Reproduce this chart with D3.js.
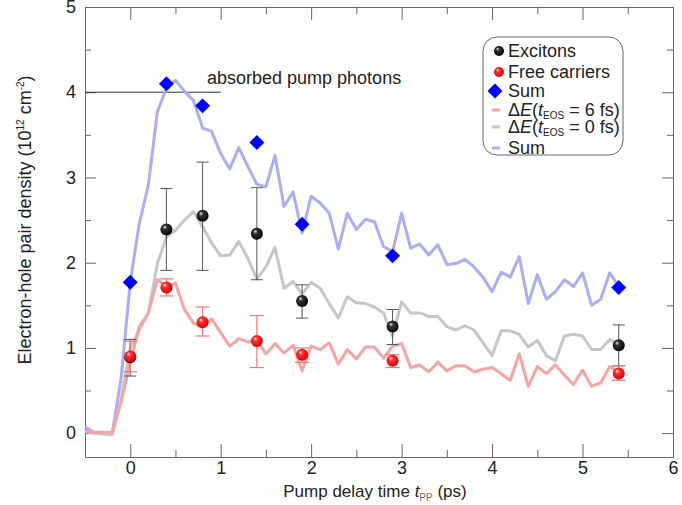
<!DOCTYPE html>
<html>
<head>
  <meta charset="utf-8">
  <style>
    body { margin: 0; background: #fff; }
    svg { font-family: "Liberation Sans", Arial, sans-serif; }
    .axis path, .axis line { stroke: #666; }
    .axis text { font-size: 18px; fill: #222; }
  </style>
</head>
<body>
  <svg width="682" height="505"></svg>

  <script src="https://cdnjs.cloudflare.com/ajax/libs/d3/7.8.5/d3.min.js"></script>
  <script>
    // time grid of the simulated curves (ps)
    const simTime = [-0.5, -0.4, -0.3, -0.2, -0.1, 0.0, 0.1, 0.2, 0.3, 0.4,
      0.5, 0.6, 0.7, 0.8, 0.9, 1.0, 1.1, 1.2, 1.3, 1.4,
      1.5, 1.6, 1.7, 1.8, 1.9, 2.0, 2.1, 2.2, 2.3, 2.4,
      2.5, 2.6, 2.7, 2.8, 2.9, 3.0, 3.1, 3.2, 3.3, 3.4,
      3.5, 3.6, 3.7, 3.8, 3.9, 4.0, 4.1, 4.2, 4.3, 4.4,
      4.5, 4.6, 4.7, 4.8, 4.9, 5.0, 5.1, 5.2, 5.3, 5.4];

    // ΔE(tEOS = 6 fs)  (free carriers)
    const curve6fs = [0.02, 0.01, 0.01, 0.01, 0.37, 0.82, 1.25, 1.41, 1.80, 1.72,
      1.76, 1.45, 1.29, 1.24, 1.34, 1.18, 1.02, 1.11, 1.07, 1.09,
      0.93, 1.05, 0.94, 1.03, 0.73, 1.02, 0.98, 1.06, 0.81, 0.98,
      0.87, 1.01, 1.01, 0.88, 1.02, 1.05, 0.77, 0.80, 0.72, 0.83,
      0.73, 0.79, 0.79, 0.72, 0.75, 0.77, 0.70, 0.62, 0.93, 0.55,
      0.78, 0.70, 0.80, 0.68, 0.57, 0.74, 0.55, 0.59, 0.78, 0.72];

    // ΔE(tEOS = 0 fs)  (excitons)
    const curve0fs = [0.02, 0.00, -0.01, -0.02, 0.40, 1.00, 1.21, 1.41, 1.99, 2.30,
      2.38, 2.50, 2.60, 2.42, 2.23, 2.08, 2.09, 2.25, 2.05, 1.81,
      1.95, 2.18, 1.70, 1.78, 1.63, 1.77, 1.70, 1.52, 1.35, 1.60,
      1.53, 1.52, 1.48, 1.41, 1.14, 1.54, 1.41, 1.41, 1.37, 1.37,
      1.25, 1.21, 1.26, 1.21, 1.06, 0.91, 1.20, 1.20, 1.16, 1.01,
      1.09, 0.91, 0.85, 1.14, 1.16, 1.14, 0.98, 0.98, 1.10, 1.04];

    // Sum of the two curves
    const curveSum = [0.07, 0.01, 0.00, -0.01, 0.65, 1.77, 2.46, 2.91, 3.77, 4.05,
      4.14, 4.01, 3.90, 3.58, 3.54, 3.28, 3.10, 3.35, 3.13, 2.92,
      2.89, 3.26, 2.66, 2.83, 2.35, 2.78, 2.70, 2.58, 2.16, 2.58,
      2.39, 2.51, 2.48, 2.19, 2.13, 2.58, 2.17, 2.22, 2.09, 2.21,
      1.98, 1.99, 2.04, 1.95, 1.83, 1.66, 1.89, 1.83, 2.07, 1.52,
      1.86, 1.57, 1.66, 1.80, 1.72, 1.88, 1.50, 1.57, 1.88, 1.72];

    // measured points
    const measTime = [0, 0.4, 0.8, 1.4, 1.9, 2.9, 5.4];
    const excitons = [0.89, 2.39, 2.55, 2.34, 1.55, 1.25, 1.03];
    const excitonsLow = [0.67, 1.91, 1.91, 1.80, 1.35, 1.04, 0.79];
    const excitonsHigh = [1.10, 2.87, 3.18, 2.88, 1.74, 1.45, 1.27];
    const carriers = [0.90, 1.71, 1.30, 1.08, 0.92, 0.85, 0.70];
    const carriersLow = [0.72, 1.61, 1.14, 0.77, 0.83, 0.77, 0.62];
    const carriersHigh = [1.08, 1.81, 1.48, 1.38, 1.00, 0.92, 0.79];
    const sumPoints = [1.77, 4.10, 3.84, 3.41, 2.45, 2.08, 1.71];

    const absorbed = 4;
    const absorbedRange = [-0.5, 1.0];

    const xTicks = [0, 1, 2, 3, 4, 5, 6];
    const xMinor = [-0.5, 0.5, 1.5, 2.5, 3.5, 4.5, 5.5];
    const yTicks = [0, 1, 2, 3, 4, 5];
    const yMinor = [0.5, 1.5, 2.5, 3.5, 4.5];

    const colRed = "#f5a3a3", colGray = "#c6c6c6", colBlue = "#acacf6";

    const svg = d3.select("svg");
    const mLeft = 85, mRight = 673, mTop = 7, mBottom = 457;

    const x = d3.scaleLinear().domain([-0.5, 6]).range([mLeft, mRight]);
    const y = d3.scaleLinear().domain([-0.28, 5]).range([mBottom, mTop]);

    // gradients for the spheres
    const defs = svg.append("defs");
    function sphere(id, c0, c1, c2) {
      const g = defs.append("radialGradient").attr("id", id)
        .attr("cx", "45%").attr("cy", "45%").attr("r", "60%")
        .attr("fx", "35%").attr("fy", "28%");
      g.append("stop").attr("offset", "0%").attr("stop-color", c0);
      g.append("stop").attr("offset", "30%").attr("stop-color", c1);
      g.append("stop").attr("offset", "100%").attr("stop-color", c2);
    }
    sphere("gBlack", "#e8e8e8", "#333", "#000");
    sphere("gRed", "#fff0f0", "#ff3030", "#d00000");

    // axes (ticks inward on all four sides)
    function axisGroup(axis, tx, ty) {
      return svg.append("g").attr("class", "axis")
        .attr("transform", `translate(${tx},${ty})`).call(axis);
    }
    axisGroup(d3.axisBottom(x).tickValues(xTicks).tickSize(-13).tickSizeOuter(0).tickPadding(4).tickFormat(d3.format("d")), 0, mBottom);
    axisGroup(d3.axisBottom(x).tickValues(xMinor).tickSize(-7).tickSizeOuter(0).tickFormat(""), 0, mBottom);
    axisGroup(d3.axisTop(x).tickValues(xTicks).tickSize(-13).tickSizeOuter(0).tickFormat(""), 0, mTop);
    axisGroup(d3.axisTop(x).tickValues(xMinor).tickSize(-7).tickSizeOuter(0).tickFormat(""), 0, mTop);
    axisGroup(d3.axisLeft(y).tickValues(yTicks).tickSize(-11).tickSizeOuter(0).tickPadding(9).tickFormat(d3.format("d")), mLeft, 0);
    axisGroup(d3.axisLeft(y).tickValues(yMinor).tickSize(-6).tickSizeOuter(0).tickFormat(""), mLeft, 0);
    axisGroup(d3.axisRight(y).tickValues(yTicks).tickSize(-11).tickSizeOuter(0).tickFormat(""), mRight, 0);
    axisGroup(d3.axisRight(y).tickValues(yMinor).tickSize(-6).tickSizeOuter(0).tickFormat(""), mRight, 0);
    svg.selectAll(".axis .domain").attr("stroke", "#666");

    // absorbed pump photons
    svg.append("line")
      .attr("x1", x(absorbedRange[0])).attr("x2", x(absorbedRange[1]))
      .attr("y1", y(absorbed)).attr("y2", y(absorbed))
      .attr("stroke", "#333").attr("stroke-width", 1);
    svg.append("text").attr("x", 207).attr("y", 84)
      .attr("font-size", 18).attr("fill", "#222").text("absorbed pump photons");

    // simulated curves
    const line = d3.line().x((d, i) => x(simTime[i])).y(d => y(d));
    [[curveSum, colBlue], [curve0fs, colGray], [curve6fs, colRed]].forEach(([arr, c]) => {
      svg.append("path").datum(arr).attr("d", line)
        .attr("fill", "none").attr("stroke", c).attr("stroke-width", 3)
        .attr("stroke-linejoin", "round");
    });

    // error bars
    function errorBars(low, high, col, cap, w) {
      const g = svg.append("g").attr("stroke", col).attr("stroke-width", w);
      measTime.forEach((t, i) => {
        g.append("line").attr("x1", x(t)).attr("x2", x(t)).attr("y1", y(low[i])).attr("y2", y(high[i]));
        g.append("line").attr("x1", x(t) - cap).attr("x2", x(t) + cap).attr("y1", y(low[i])).attr("y2", y(low[i]));
        g.append("line").attr("x1", x(t) - cap).attr("x2", x(t) + cap).attr("y1", y(high[i])).attr("y2", y(high[i]));
      });
    }
    errorBars(excitonsLow, excitonsHigh, "#555", 6, 1);
    errorBars(carriersLow, carriersHigh, "#f07878", 7, 1.2);

    // sum diamonds
    const diamond = d3.symbol().type(d3.symbolSquare).size(112);
    svg.selectAll(".sum").data(sumPoints).join("path")
      .attr("class", "sum").attr("d", diamond).attr("fill", "#0000ff")
      .attr("transform", (d, i) => `translate(${x(measTime[i])},${y(d)}) rotate(45)`);

    // spheres
    svg.selectAll(".exc").data(excitons).join("circle")
      .attr("class", "exc").attr("cx", (d, i) => x(measTime[i])).attr("cy", d => y(d))
      .attr("r", 6).attr("fill", "url(#gBlack)");
    svg.selectAll(".car").data(carriers).join("circle")
      .attr("class", "car").attr("cx", (d, i) => x(measTime[i])).attr("cy", d => y(d))
      .attr("r", 6).attr("fill", "url(#gRed)");

    // axis titles
    const xt = svg.append("text").attr("x", 375).attr("y", 497)
      .attr("text-anchor", "middle").attr("font-size", 17).attr("fill", "#222");
    xt.append("tspan").text("Pump delay time ");
    xt.append("tspan").attr("font-style", "italic").text("t");
    xt.append("tspan").attr("font-size", 10).attr("dy", 4).attr("fill", "#666").text("PP");
    xt.append("tspan").attr("dy", -4).text(" (ps)");

    const yt = svg.append("text").attr("transform", "translate(31,220) rotate(-90)")
      .attr("text-anchor", "middle").attr("font-size", 18).attr("fill", "#222");
    yt.append("tspan").text("Electron-hole pair density  (10");
    yt.append("tspan").attr("font-size", 10).attr("dy", -7).text("12");
    yt.append("tspan").attr("dy", 7).text(" cm");
    yt.append("tspan").attr("font-size", 10).attr("dy", -7).text("-2");
    yt.append("tspan").attr("dy", 7).text(")");

    // legend
    const lg = svg.append("g");
    lg.append("rect").attr("x", 483).attr("y", 37).attr("width", 140).attr("height", 118)
      .attr("rx", 14).attr("fill", "#fff").attr("stroke", "#666").attr("stroke-width", 1);
    const rows = [51, 72, 91, 110, 127, 148];
    const tx = 508;
    lg.append("circle").attr("cx", 499).attr("cy", rows[0]).attr("r", 5).attr("fill", "url(#gBlack)");
    lg.append("circle").attr("cx", 499).attr("cy", rows[1]).attr("r", 5).attr("fill", "url(#gRed)");
    lg.append("path").attr("d", diamond).attr("fill", "#0000ff")
      .attr("transform", `translate(495,${rows[2]}) rotate(45)`);
    [[rows[3], colRed], [rows[4], colGray], [rows[5], colBlue]].forEach(([ry, c]) => {
      lg.append("line").attr("x1", 492).attr("x2", 500).attr("y1", ry).attr("y2", ry)
        .attr("stroke", c).attr("stroke-width", 3);
    });
    function legText(ry) {
      return lg.append("text").attr("x", tx).attr("y", ry + 6).attr("font-size", 18).attr("fill", "#222");
    }
    legText(rows[0]).text("Excitons");
    legText(rows[1]).text("Free carriers");
    legText(rows[2]).text("Sum");
    [["6", rows[3]], ["0", rows[4]]].forEach(([v, ry]) => {
      const t = legText(ry);
      t.append("tspan").text("\u0394");
      t.append("tspan").attr("font-style", "italic").text("E");
      t.append("tspan").text("(");
      t.append("tspan").attr("font-style", "italic").text("t");
      t.append("tspan").attr("font-size", 10).attr("dy", 3).text("EOS");
      t.append("tspan").attr("dy", -3).text(` = ${v} fs)`);
    });
    legText(rows[5]).text("Sum");
  </script>
</body>
</html>
